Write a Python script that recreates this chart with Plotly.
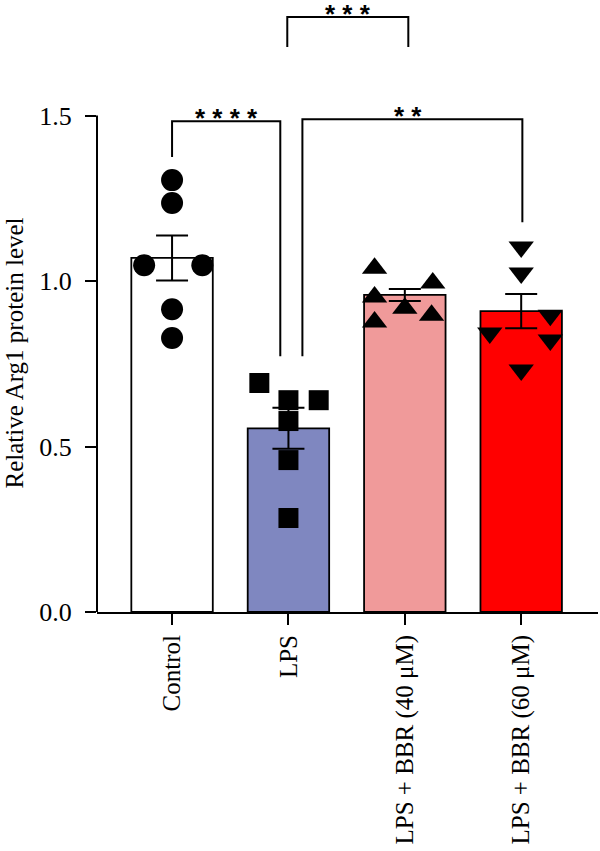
import plotly.graph_objects as go

categories = ["Control", "LPS", "LPS + BBR (40 μM)", "LPS + BBR (60 μM)"]
means = [1.07, 0.555, 0.958, 0.909]
sems = [0.068, 0.062, 0.018, 0.052]

control_pts = [1.305, 1.236, 1.048, 1.048, 0.915, 0.828]
lps_pts = [0.692, 0.640, 0.640, 0.577, 0.459, 0.284]
bbr40_pts = [1.039, 0.994, 0.952, 0.918, 0.897, 0.876]
bbr60_pts = [1.103, 1.024, 0.897, 0.843, 0.822, 0.731]

control_off = [0, 0, -0.24, 0.26, 0, 0]
lps_off = [-0.25, 0, 0.26, 0, 0, 0]
bbr40_off = [-0.26, 0.24, -0.26, 0, 0.23, -0.26]
bbr60_off = [0, 0, 0.25, -0.27, 0.25, 0]

bar_colors = ["#ffffff", "#7f87c0", "#f09a9a", "#ff0000"]
symbols = ["circle", "square", "triangle-up", "triangle-down"]
marker_sizes = [22, 20, 22, 22]

FONT = "Liberation Serif"

fig = go.Figure()
xs = list(range(len(categories)))
fig.add_trace(go.Bar(
    x=xs, y=means, width=0.7,
    marker=dict(color=bar_colors, line=dict(color="black", width=1.8)),
    error_y=dict(type="data", array=sems, visible=True, color="black",
                 thickness=2, width=16),
    showlegend=False,
))

groups = [control_pts, lps_pts, bbr40_pts, bbr60_pts]
offsets = [control_off, lps_off, bbr40_off, bbr60_off]
for i, (pts, off) in enumerate(zip(groups, offsets)):
    fig.add_trace(go.Scatter(
        x=[i + o for o in off], y=pts, mode="markers",
        marker=dict(symbol=symbols[i], size=marker_sizes[i], color="black",
                    line=dict(width=0)),
        showlegend=False, cliponaxis=False,
    ))

# significance brackets
brackets = [
    # (x0, x1, y, left_bottom, right_bottom, label, label_x)
    (0.0, 0.93, 1.483, 1.375, 0.773, "* * * *", 0.47),
    (1.12, 3.01, 1.489, 0.773, 1.178, "* *", 2.03),
    (0.99, 2.03, 1.798, 1.707, 1.707, "* * *", 1.51),
]
for x0, x1, y, lb, rb, lab, lx in brackets:
    fig.add_shape(type="path",
                  path=f"M {x0},{lb} L {x0},{y} L {x1},{y} L {x1},{rb}",
                  xref="x", yref="y", line=dict(color="black", width=2))
    fig.add_annotation(x=lx, y=y, xref="x", yref="y", text=lab,
                       showarrow=False, yanchor="bottom", yshift=-14,
                       font=dict(family="Liberation Sans", size=26, color="black",
                                 weight="bold"))

# y axis line only from 0 to 1.5
fig.add_shape(type="line", xref="paper", yref="y", x0=0, x1=0, y0=0, y1=1.5,
              line=dict(color="black", width=2))

fig.add_annotation(text="Relative Arg1 protein level", xref="paper", yref="paper",
                   x=-0.165, y=0.43, textangle=-90, showarrow=False,
                   xanchor="center", yanchor="middle",
                   font=dict(family=FONT, size=25, color="black"))

fig.update_layout(
    width=600, height=851,
    margin=dict(l=97, r=2, t=10, b=239),
    plot_bgcolor="white", paper_bgcolor="white",
    bargap=0.3,
    font=dict(family=FONT, size=24, color="black"),
    xaxis=dict(
        range=[-0.645, 3.66], tickmode="array", tickvals=xs, ticktext=categories,
        tickangle=-90, showline=True, linecolor="black", linewidth=2,
        ticks="outside", ticklen=11, tickwidth=2, tickcolor="black",
        showgrid=False, zeroline=False, automargin=False,
        tickfont=dict(family=FONT, size=25, color="black"),
    ),
    yaxis=dict(
        range=[0, 1.819], tickmode="array", tickvals=[0, 0.5, 1.0, 1.5],
        ticktext=["0.0", "0.5", "1.0", "1.5"],
        showline=False, ticks="outside", ticklen=11, tickwidth=2,
        tickcolor="black", showgrid=False, zeroline=False, automargin=False,
        ticklabelstandoff=8,
        tickfont=dict(family=FONT, size=26, color="black"),
    ),
)

fig.write_html("out.html")
